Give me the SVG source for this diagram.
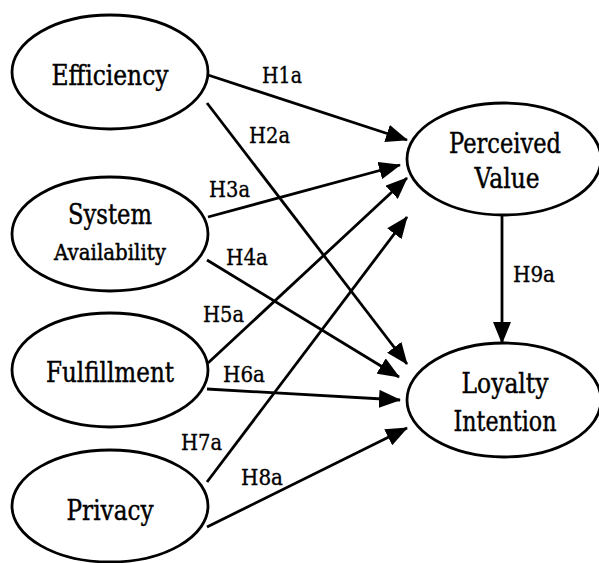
<svg xmlns="http://www.w3.org/2000/svg" width="599" height="563" viewBox="0 0 599 563">
  <style>
    .node ellipse { fill: #fff; stroke: #000; stroke-width: 2.8; }
    .node text { font-family: 'DejaVu Serif', serif; font-size: 27px; fill: #000; stroke: #000; stroke-width: 0.45; text-anchor: middle; }
    .node text.small { font-size: 22px; }
    .edges line { stroke: #000; stroke-width: 2.8; marker-end: url(#arrow); }
    .labels text { font-family: 'DejaVu Serif', serif; font-size: 22px; fill: #000; stroke: #000; stroke-width: 0.35; }
  </style>
  <defs>
    <marker id="arrow" markerUnits="userSpaceOnUse" markerWidth="22" markerHeight="18" viewBox="0 0 22 18" refX="21" refY="9" orient="auto">
      <path d="M0,0 L22,9 L0,18 z" fill="#000"/>
    </marker>
  </defs>

  <!-- connectors -->
  <g id="connectors" class="edges">
    <line x1="208" y1="75" x2="407" y2="140"/>
    <line x1="207" y1="103" x2="407" y2="364"/>
    <line x1="208" y1="217" x2="400" y2="165"/>
    <line x1="207" y1="260" x2="399" y2="377"/>
    <line x1="208" y1="363" x2="407" y2="178"/>
    <line x1="207" y1="389" x2="400" y2="400"/>
    <line x1="207" y1="482" x2="407" y2="217"/>
    <line x1="207" y1="527" x2="407" y2="428"/>
    <line x1="502" y1="215" x2="502" y2="343"/>
  </g>

  <!-- hypothesis labels -->
  <g id="edge-labels" class="labels">
    <text x="262" y="83" textLength="40" lengthAdjust="spacingAndGlyphs">H1a</text>
    <text x="249" y="143" textLength="41" lengthAdjust="spacingAndGlyphs">H2a</text>
    <text x="209" y="197" textLength="41" lengthAdjust="spacingAndGlyphs">H3a</text>
    <text x="226" y="265" textLength="42" lengthAdjust="spacingAndGlyphs">H4a</text>
    <text x="203" y="322" textLength="41" lengthAdjust="spacingAndGlyphs">H5a</text>
    <text x="223" y="382" textLength="42" lengthAdjust="spacingAndGlyphs">H6a</text>
    <text x="181" y="450" textLength="41" lengthAdjust="spacingAndGlyphs">H7a</text>
    <text x="241" y="485" textLength="42" lengthAdjust="spacingAndGlyphs">H8a</text>
    <text x="513" y="282" textLength="42" lengthAdjust="spacingAndGlyphs">H9a</text>
  </g>

  <g id="efficiency" class="node">
    <ellipse cx="110" cy="72" rx="98" ry="57"/>
    <text x="110" y="85" textLength="117" lengthAdjust="spacingAndGlyphs">Efficiency</text>
  </g>
  <g id="system-availability" class="node">
    <ellipse cx="110" cy="234" rx="98" ry="57"/>
    <text x="110" y="224" textLength="84" lengthAdjust="spacingAndGlyphs">System</text>
    <text class="small" x="110" y="260" textLength="112" lengthAdjust="spacingAndGlyphs">Availability</text>
  </g>
  <g id="fulfillment" class="node">
    <ellipse cx="110" cy="370" rx="98" ry="57"/>
    <text x="110" y="382" textLength="128" lengthAdjust="spacingAndGlyphs">Fulfillment</text>
  </g>
  <g id="privacy" class="node">
    <ellipse cx="110" cy="506" rx="98" ry="56"/>
    <text x="110" y="520" textLength="87" lengthAdjust="spacingAndGlyphs">Privacy</text>
  </g>
  <g id="perceived-value" class="node">
    <ellipse cx="504" cy="159" rx="97" ry="56"/>
    <text x="505" y="153" textLength="112" lengthAdjust="spacingAndGlyphs">Perceived</text>
    <text x="507" y="188" textLength="65" lengthAdjust="spacingAndGlyphs">Value</text>
  </g>
  <g id="loyalty-intention" class="node">
    <ellipse cx="504" cy="400" rx="97" ry="57"/>
    <text x="505" y="393" textLength="87" lengthAdjust="spacingAndGlyphs">Loyalty</text>
    <text x="505" y="431" textLength="103" lengthAdjust="spacingAndGlyphs">Intention</text>
  </g>
</svg>
